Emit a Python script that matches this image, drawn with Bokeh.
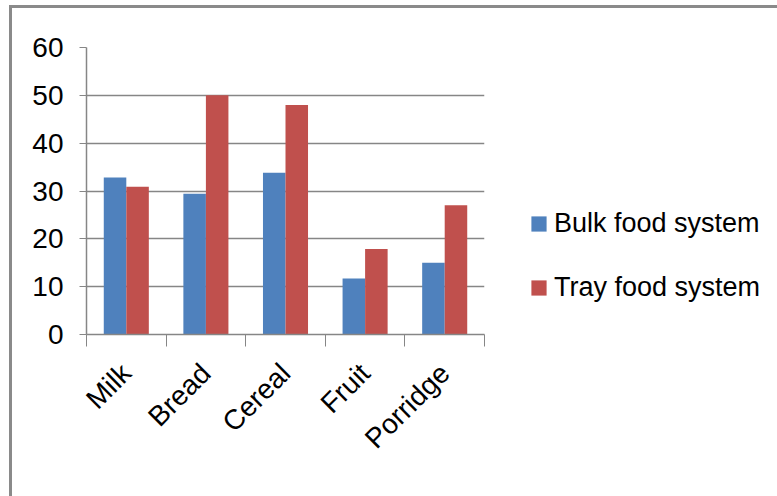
import math
from bokeh.plotting import figure
from bokeh.models import FixedTicker, Legend, LegendItem
from bokeh.embed import file_html
from bokeh.resources import INLINE

categories = ["Milk", "Bread", "Cereal", "Fruit", "Porridge"]
bulk = [32.8, 29.4, 33.8, 11.7, 15.0]
tray = [30.9, 50.0, 48.0, 17.9, 27.0]
series_names = ["Bulk food system", "Tray food system"]
y_ticks = [0, 10, 20, 30, 40, 50, 60]

BLUE = "#4F81BD"
RED = "#C0504D"
GRID = "#868686"
FONT = "Liberation Sans"

p = figure(frame_width=398, frame_height=287, x_range=(0, len(categories)), y_range=(0, 60),
           output_backend="svg", toolbar_location=None,
           min_border_left=74, min_border_top=39, min_border_right=293, min_border_bottom=162,
           margin=(5, 0, 0, 9),
           styles={"border-top": "3px solid #8a8a8a", "border-left": "3px solid #8a8a8a"})
p.outline_line_color = None

xc = [i + 0.5 for i in range(len(categories))]
bw = 0.283
r1 = p.vbar(x=[x - bw / 2 for x in xc], top=bulk, width=bw, fill_color=BLUE, line_color=None)
r2 = p.vbar(x=[x + bw / 2 for x in xc], top=tray, width=bw, fill_color=RED, line_color=None)

# y axis
ya = p.yaxis[0]
ya.ticker = FixedTicker(ticks=y_ticks)
ya.axis_line_color = GRID
ya.axis_line_width = 1.5
ya.major_tick_line_color = GRID
ya.major_tick_out = 7
ya.major_tick_in = 0
ya.minor_tick_line_color = None
ya.major_label_text_font = FONT
ya.major_label_text_font_size = "28px"
ya.major_label_text_color = "#000000"
ya.major_label_standoff = 16

# x axis
xa = p.xaxis[0]
xa.ticker = FixedTicker(ticks=xc, minor_ticks=list(range(len(categories) + 1)))
xa.major_label_overrides = {x: c for x, c in zip(xc, categories)}
xa.axis_line_color = GRID
xa.axis_line_width = 1.5
xa.major_tick_line_color = None
xa.major_tick_out = 0
xa.major_tick_in = 0
xa.minor_tick_line_color = GRID
xa.minor_tick_out = 12
xa.minor_tick_in = 0
xa.major_label_orientation = math.pi / 4
xa.major_label_text_font = FONT
xa.major_label_text_font_size = "28px"
xa.major_label_text_color = "#000000"
xa.major_label_standoff = 22

p.xgrid.grid_line_color = None
p.ygrid.ticker = FixedTicker(ticks=y_ticks)
p.ygrid.grid_line_color = GRID
p.ygrid.grid_line_width = 1.5

legend = Legend(items=[LegendItem(label=series_names[0], renderers=[r1]),
                       LegendItem(label=series_names[1], renderers=[r2])],
                location=(45, 31), orientation="vertical",
                label_text_font=FONT, label_text_font_size="27px", label_text_color="#000000",
                glyph_width=19, glyph_height=19, label_standoff=6,
                spacing=33, padding=0, margin=0,
                border_line_color=None, background_fill_alpha=0)
p.add_layout(legend, "right")

open("out.html", "w").write(file_html(p, INLINE))
